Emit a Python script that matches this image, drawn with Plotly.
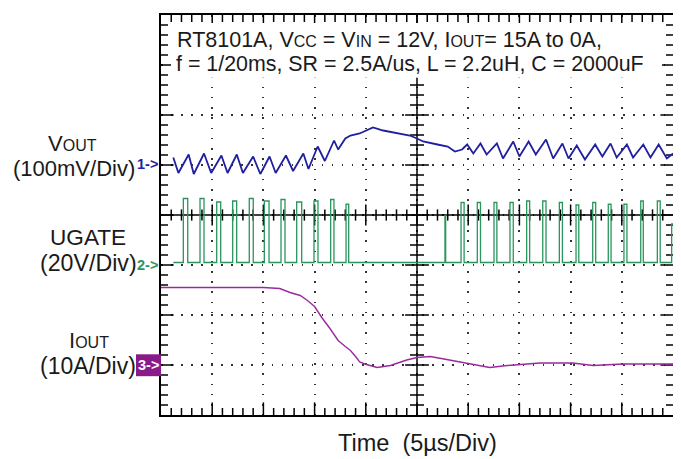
import plotly.graph_objects as go

# ---------------- data read from the scope screen ----------------
# time axis: 5 us/div, 10 divisions -> 0..50 us
# CH1 VOUT (AC, 100 mV/div), vertices of the ripple trace
vout_t_us = [1.2, 1.7, 2.7, 3.2, 4.2, 4.9, 5.9, 6.5, 7.4, 8.0,
             9.0, 9.7, 10.6, 11.2, 12.2, 12.9, 13.9, 14.4, 15.3, 16.0,
             16.9, 17.3, 18.0, 18.5, 19.4, 20.7, 21.7, 23.1, 24.3, 25.0,
             25.6, 27.0, 28.0, 28.7, 29.4, 29.9, 30.5, 31.2, 31.8, 32.8,
             33.4, 34.4, 35.0, 35.9, 36.6, 37.6, 38.3, 39.2, 39.8, 40.6,
             41.4, 42.4, 43.1, 43.9, 44.5, 45.5, 46.1, 47.1, 47.8, 48.6,
             49.4, 50.0]
vout_mV = [15, -16, 21, -18, 23, -16, 19, -16, 21, -16,
           17, -18, 17, -16, 19, -12, 23, -8, 37, 8,
           49, 31, 53, 59, 63, 75, 69, 63, 59, 53,
           47, 41, 37, 27, 31, 41, 23, 43, 21, 43,
           13, 47, 17, 47, 21, 51, 13, 43, 13, 39,
           11, 41, 17, 43, 15, 41, 15, 41, 15, 41,
           13, 23]

# CH2 UGATE (20 V/div): pulse edges and pulse top levels
ug_start_us = 1.2
ug_low_V = 1.0
ug_rise_us = [2.18, 3.81, 5.44, 7.00, 8.62, 10.09, 11.72, 13.25, 14.94, 16.57, 18.07,
              27.73, 29.30, 30.89, 32.52, 34.08, 35.71, 37.28, 38.90, 40.53, 42.16,
              43.68, 45.21, 46.85, 48.47, 49.87]
ug_fall_us = [2.61, 4.20, 5.83, 7.39, 9.01, 10.55, 12.11, 13.74, 15.33, 16.89, 18.33,
              27.80, 29.60, 31.20, 32.80, 34.40, 36.00, 37.60, 39.20, 40.80, 42.45,
              43.95, 45.50, 47.10, 48.75, 50.20]
ug_high_V = [26.6, 26.6, 25.2, 25.6, 26.6, 25.6, 26.2, 25.2, 25.6, 26.2, 24.3,
             19.6, 25.0, 25.0, 25.0, 25.0, 25.6, 25.6, 25.0, 24.0, 25.0,
             24.3, 24.3, 25.6, 25.6, 16.4]

# CH3 IOUT (10 A/div)
iout_t_us = [0.0, 10.0, 11.6, 12.6, 13.6, 14.3, 15.0, 15.7, 16.5, 17.3,
             18.0, 18.5, 19.0, 19.4, 19.9, 21.1, 22.4, 24.0, 25.0, 26.3,
             27.9, 29.9, 32.1, 33.8, 37.0, 40.2, 42.2, 45.1, 50.0]
iout_A = [15.5, 15.5, 15.3, 14.5, 13.9, 12.9, 11.7, 9.5, 7.3, 4.9,
          3.7, 2.9, 1.7, 0.6, 0.2, -0.5, -0.1, 1.0, 1.5, 1.7,
          1.1, 0.4, -0.5, -0.1, 0.4, 0.4, -0.1, 0.2, 0.2]

# ---------------- geometry ----------------
# the page body adds an 8 px margin, so the figure is 8 px smaller / offset
W, H = 673, 451
ML, MT = 153, 5
PW, PH = 512, 402
MR, MB = W - ML - PW, H - MT - PH
X0, YB = 161, 415          # plot-area left / bottom on screen
FONT = "Liberation Sans, Arial, sans-serif"


def px(x):
    return (x - X0) / PW


def py(y):
    return (YB - y) / PH


fig = go.Figure()

TK = dict(color="black", width=1.5)


def tick_trace(xs, ys, symbol, size):
    fig.add_trace(go.Scatter(x=xs, y=ys, mode="markers", hoverinfo="skip",
                             marker=dict(symbol=symbol, size=size, line=TK)))


# centre cross and border tick marks (screen divisions)
minor_x = [i for i in range(0, 51) if i % 5 != 0]
major_x = [i for i in range(5, 50, 5)]
minor_y = [i / 5 for i in range(0, 41) if i % 5 != 0]
major_y = [i for i in range(1, 8)]
fig.add_trace(go.Scatter(x=[0, 50], y=[4, 4], mode="lines", line=TK, hoverinfo="skip"))
fig.add_trace(go.Scatter(x=[25, 25], y=[0, 8], mode="lines", line=TK, hoverinfo="skip"))
tick_trace(minor_x, [4] * len(minor_x), "line-ns", 8)
tick_trace(major_x, [4] * len(major_x), "line-ns", 15)
tick_trace([25] * len(minor_y), minor_y, "line-ew", 10)
tick_trace([25] * len(major_y), major_y, "line-ew", 17)
for yb in (0, 8):
    tick_trace(minor_x, [yb] * len(minor_x), "line-ns", 10)
    tick_trace(major_x, [yb] * len(major_x), "line-ns", 18)
for xb in (0, 50):
    tick_trace([xb] * len(minor_y), minor_y, "line-ew", 10)
    tick_trace([xb] * len(major_y), major_y, "line-ew", 18)

# waveforms
fig.add_trace(go.Scatter(x=vout_t_us, y=vout_mV, yaxis="y2", mode="lines",
                         line=dict(color="#1f1fa0", width=1.8), hoverinfo="skip"))

ug_x = [ug_start_us]
ug_y = [ug_low_V]
for r, f, h in zip(ug_rise_us, ug_fall_us, ug_high_V):
    ug_x += [r, r, f, f]
    ug_y += [ug_low_V, h, h, ug_low_V]
fig.add_trace(go.Scatter(x=ug_x, y=ug_y, yaxis="y3", mode="lines",
                         line=dict(color="#2a955d", width=1.3), hoverinfo="skip"))

fig.add_trace(go.Scatter(x=iout_t_us, y=iout_A, yaxis="y4", mode="lines",
                         line=dict(color="#9a2a9e", width=1.4), hoverinfo="skip"))

# ---------------- layout ----------------
shapes = [
    dict(type="rect", xref="paper", yref="paper", x0=px(171), x1=px(662),
         y0=py(76), y1=py(21), fillcolor="white", line=dict(width=0), layer="above"),
    dict(type="rect", xref="paper", yref="paper", x0=px(136), x1=px(161),
         y0=py(376), y1=py(354), fillcolor="#8a1a8a", line=dict(width=0), layer="above"),
]

sm = "<span style='font-size:16px'>%s</span>"
ann = []


def add_text(text, x, y, size, color="#1a1a1a", xanchor="center", bold=False):
    ann.append(dict(text=("<b>%s</b>" % text) if bold else text, xref="paper", yref="paper",
                    x=px(x), y=py(y), xanchor=xanchor, yanchor="middle", showarrow=False,
                    font=dict(family=FONT, size=size, color=color)))


add_text("RT8101A, V" + sm % "CC" + " = V" + sm % "IN" + " = 12V, I" + sm % "OUT"
         + "= 15A to 0A,", 175, 38, 21.5, xanchor="left")
add_text("f = 1/20ms, SR = 2.5A/us, L = 2.2uH, C = 2000uF", 174, 62, 21.4, xanchor="left")

add_text("V<span style='font-size:16px'>OUT</span>", 72, 142, 22)
add_text("(100mV/Div)", 74, 167, 22)
add_text("UGATE", 88, 237, 22.6)
add_text("(20V/Div)", 88, 262, 23.2)
add_text("I<span style='font-size:16px'>OUT</span>", 89, 340, 22)
add_text("(10A/Div)", 88, 366, 23)

add_text("1->", 147, 163, 14.5, color="#1f1fa0", bold=True)
add_text("2->", 147, 264, 14.5, color="#2a955d", bold=True)
add_text("3->", 148, 365, 14.5, color="white", bold=True)

add_text("Time  (5µs/Div)", 417, 443, 23.5)

AX = dict(showline=True, linecolor="black", linewidth=1.5, mirror=True, ticks="",
          showticklabels=False, showgrid=True, gridcolor="#333", gridwidth=1.5,
          zeroline=False, fixedrange=True)

fig.update_layout(
    width=W, height=H,
    margin=dict(l=ML, r=MR, t=MT, b=MB, pad=0),
    paper_bgcolor="white", plot_bgcolor="white",
    showlegend=False,
    shapes=shapes,
    annotations=ann,
    xaxis=dict(range=[0, 50], tick0=0, dtick=5, griddash="1.5px,8.74px", **AX),
    yaxis=dict(range=[0, 8], tick0=0, dtick=1, griddash="1.5px,8.55px", **AX),
    yaxis2=dict(overlaying="y", range=[-500, 300], visible=False, fixedrange=True),
    yaxis3=dict(overlaying="y", range=[-60, 100], visible=False, fixedrange=True),
    yaxis4=dict(overlaying="y", range=[-10, 70], visible=False, fixedrange=True),
)

fig.write_html("out.html")
